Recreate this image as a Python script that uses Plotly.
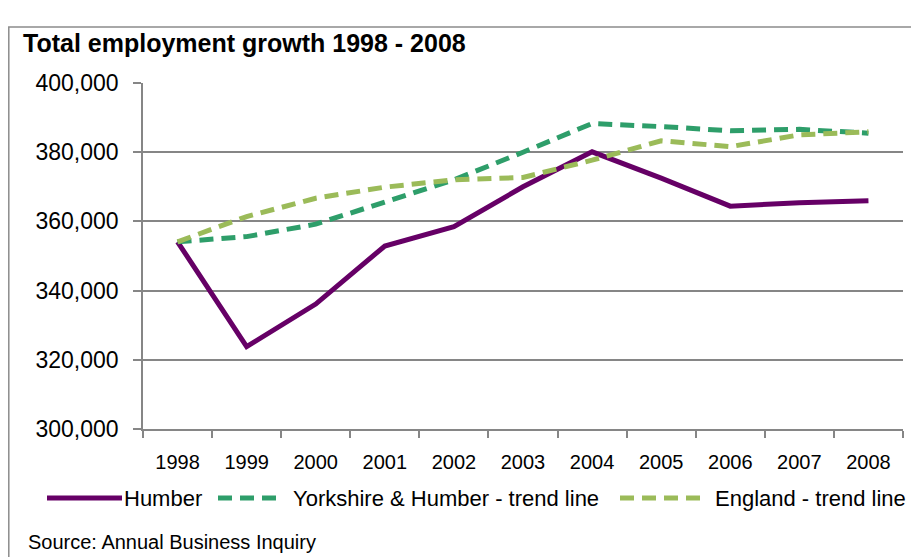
import plotly.graph_objects as go

years = ["1998", "1999", "2000", "2001", "2002", "2003", "2004", "2005", "2006", "2007", "2008"]
humber = [354100, 323800, 336100, 352900, 358500, 370000, 380100, 372500, 364400, 365400, 366000]
yorkshire_trend = [354100, 355600, 359200, 365700, 372000, 380000, 388300, 387400, 386200, 386600, 385500]
england_trend = [354100, 361400, 366700, 369900, 372000, 372700, 377700, 383300, 381600, 385000, 385900]

names = ["Humber", "Yorkshire & Humber - trend line", "England - trend line"]
colors = ["#660066", "#2E9E6A", "#9BBB59"]

FONT = "Liberation Sans, Arial, sans-serif"
OFF = 8  # page body margin
W, H = 919 - OFF, 557 - OFF
# plot area in window pixels: x 143..903, y 83..429
L, T = 143 - OFF, 83 - OFF
R, B = W - (903 - OFF), H - (429 - OFF)
PW, PH = W - L - R, H - T - B


def px(x):
    # window pixel x -> paper
    return (x - OFF - L) / PW


def py(y):
    # window pixel y -> paper
    return (H - B - (y - OFF)) / PH


fig = go.Figure()
fig.add_trace(go.Scatter(x=years, y=humber, name=names[0], mode="lines",
                         line=dict(color=colors[0], width=5)))
fig.add_trace(go.Scatter(x=years, y=yorkshire_trend, name=names[1], mode="lines",
                         line=dict(color=colors[1], width=5, dash="14px,8px")))
fig.add_trace(go.Scatter(x=years, y=england_trend, name=names[2], mode="lines",
                         line=dict(color=colors[2], width=5, dash="14px,8px")))

grey = "#868686"
fig.update_layout(
    width=W, height=H,
    margin=dict(l=L, r=R, t=T, b=B, autoexpand=False),
    paper_bgcolor="white", plot_bgcolor="white",
    showlegend=False,
    font=dict(family=FONT, color="#000000"),
    xaxis=dict(type="category", range=[-0.5, 10.5], tickson="boundaries",
               ticks="outside", ticklen=7, tickcolor=grey, tickwidth=1.5,
               showline=True, linecolor=grey, linewidth=1.5, showgrid=False,
               tickfont=dict(size=20, family=FONT), ticklabelstandoff=14),
    yaxis=dict(range=[300000, 400000], dtick=20000, tickformat=",",
               ticks="outside", ticklen=8, tickcolor=grey, tickwidth=1.5,
               showline=True, linecolor=grey, linewidth=1.5,
               showgrid=True, gridcolor=grey, gridwidth=1.5, zeroline=False,
               tickfont=dict(size=23, family=FONT), ticklabelstandoff=10),
)

shapes = []
# outer chart border (top and left edges)
shapes.append(dict(type="path", xref="paper", yref="paper",
                   path=f"M {px(8.8)} {py(570)} L {px(8.8)} {py(27)} L {px(930)} {py(27)}",
                   line=dict(color="#8c8c8c", width=1.5)))
# manual legend symbols
legend_y = py(498)
shapes.append(dict(type="line", xref="paper", yref="paper", x0=px(47), x1=px(122),
                   y0=legend_y, y1=legend_y, line=dict(color=colors[0], width=5)))
shapes.append(dict(type="line", xref="paper", yref="paper", x0=px(218), x1=px(282),
                   y0=legend_y, y1=legend_y, line=dict(color=colors[1], width=5, dash="14px,8px")))
shapes.append(dict(type="line", xref="paper", yref="paper", x0=px(620), x1=px(704),
                   y0=legend_y, y1=legend_y, line=dict(color=colors[2], width=5, dash="14px,8px")))
fig.update_layout(shapes=shapes)

ann = []
ann.append(dict(text="<b>Total employment growth 1998 - 2008</b>", xref="paper", yref="paper",
                x=px(21), y=py(43), xanchor="left", yanchor="middle", showarrow=False,
                font=dict(size=25, family=FONT, color="#000000")))
for nm, x0 in zip(names, [122, 291, 713]):
    ann.append(dict(text=nm, xref="paper", yref="paper", x=px(x0), y=legend_y,
                    xanchor="left", yanchor="middle", showarrow=False,
                    font=dict(size=22, family=FONT, color="#000000")))
ann.append(dict(text="Source: Annual Business Inquiry", xref="paper", yref="paper",
                x=px(26), y=py(542), xanchor="left", yanchor="middle", showarrow=False,
                font=dict(size=20, family=FONT, color="#000000")))
fig.update_layout(annotations=ann)

fig.write_html("out.html")
